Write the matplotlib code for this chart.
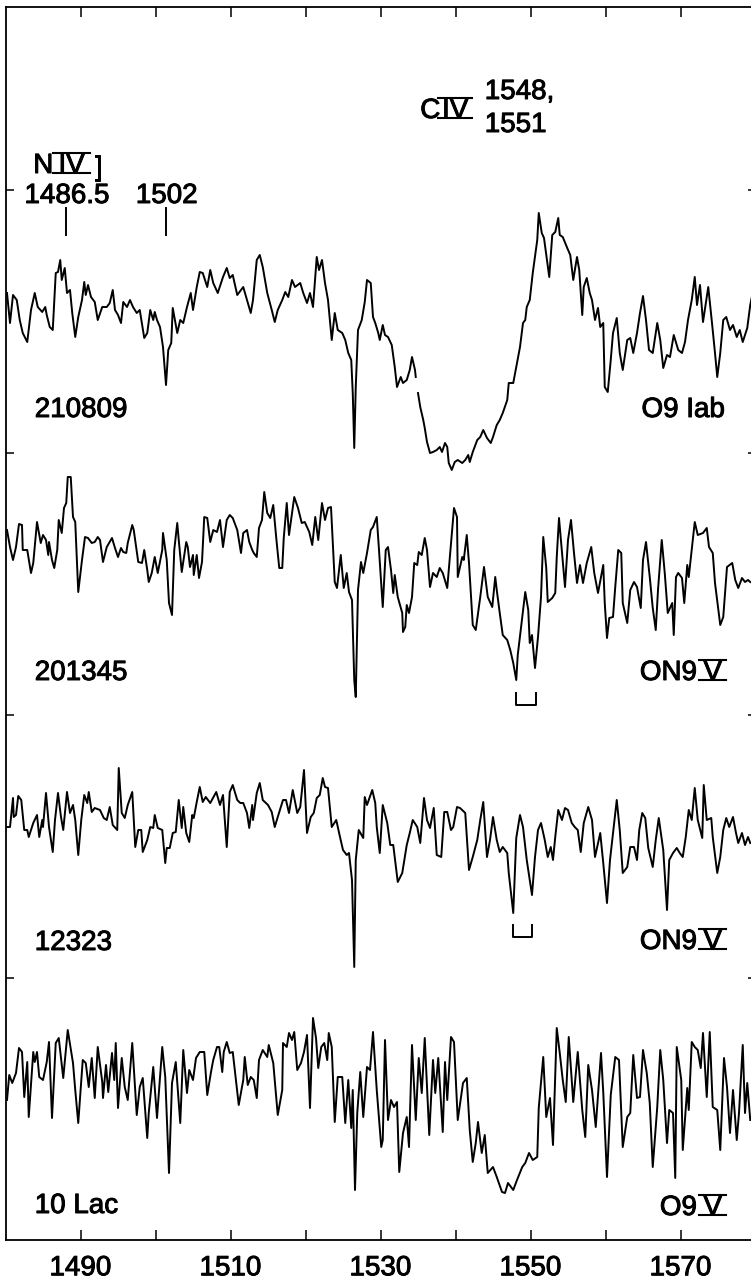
import numpy as np
import matplotlib
matplotlib.use('Agg')
import matplotlib.pyplot as plt
import matplotlib.patheffects as pe

plt.rcParams['font.family'] = ['Liberation Sans', 'DejaVu Sans']

# wavelength offsets from 1480 A and relative flux (arbitrary units)
w1 = [0.2, 0.6, 1.0, 1.5, 1.9, 2.3, 2.9, 3.4, 3.9, 4.3, 4.9, 5.3, 5.5, 5.9, 6.3, 6.7, 7.0, 7.3, 7.5, 7.9,
      8.2, 8.6, 8.9, 9.3, 9.7, 10.2, 10.5, 10.7, 11.0, 11.4, 11.9, 12.3, 12.9, 13.5, 13.9, 14.3, 14.6, 15.0,
      15.4, 15.7, 16.2, 16.6, 17.0, 17.5, 17.9, 18.5, 18.9, 19.3, 19.7, 19.9, 20.2, 20.6, 21.0, 21.4, 21.7,
      22.1, 22.3, 22.9, 23.3, 23.7, 24.2, 24.7, 25.0, 25.5, 25.9, 26.3, 26.9, 27.3, 27.7, 28.3, 29.0, 29.5,
      29.9, 30.3, 30.9, 31.7, 32.2, 32.7, 33.0, 33.5, 33.9, 34.3, 34.9, 35.5, 35.9, 36.3, 36.9, 37.3, 37.7,
      38.2, 38.6, 39.3, 39.7, 40.2, 40.6, 41.0, 41.5, 41.8, 42.2, 42.6, 43.0, 43.5, 43.9, 44.3, 44.9, 45.3,
      45.7, 46.1, 46.3, 46.5, 46.7, 47.0, 47.5, 47.9, 48.2, 48.7, 49.0, 49.3, 49.7, 49.9, 50.3, 50.6, 51.0,
      51.5, 51.9, 52.2, 52.7, 53.0, 53.5, 53.9, 54.2, 54.6, 54.7, 54.8, 55.0, 55.3, 55.7, 55.9, 56.2, 56.6,
      57.0, 57.5, 57.9, 58.2, 58.6, 58.9, 59.1, 59.5, 59.9, 60.3, 60.9, 61.3, 61.7, 61.9, 62.3, 62.9, 63.3,
      63.7, 64.2, 64.7, 65.0, 65.5, 65.9, 66.3, 66.9, 67.1, 67.7, 68.2, 68.6, 69.0, 69.3, 69.5, 69.9, 70.3,
      70.9, 71.1, 71.5, 71.8, 72.2, 72.5, 72.9, 73.3, 73.7, 73.9, 74.3, 74.9, 75.3, 75.7, 76.2, 76.5, 76.9,
      77.1, 77.5, 77.9, 78.2, 78.6, 79.0, 79.3, 79.7, 79.9, 80.3, 80.7, 81.0, 81.5, 81.9, 82.3, 82.9, 83.3,
      83.7, 84.2, 84.6, 85.0, 85.4, 85.8, 86.3, 86.9, 87.3, 87.7, 88.2, 88.6, 89.1, 89.7, 90.2, 90.6, 91.0,
      91.5, 91.9, 92.2, 92.6, 93.0, 93.7, 94.2, 94.6, 94.9, 95.3, 95.7, 96.1, 96.6, 97.0, 97.5, 97.9, 98.3,
      98.9, 99.3, 99.7]
f1 = [197, 167, 195, 190, 170, 157, 148, 180, 197, 183, 178, 183, 175, 163, 160, 217, 218, 230, 210, 222,
      197, 200, 177, 153, 173, 190, 208, 195, 205, 193, 188, 170, 183, 183, 187, 200, 180, 175,
      167, 188, 183, 190, 183, 177, 180, 152, 157, 180, 170, 178, 170, 163, 143, 105, 140,
      147, 182, 157, 170, 167, 183, 197, 180, 203, 218, 217, 203, 220, 207, 197, 213, 222,
      212, 215, 195, 203, 190, 177, 190, 230, 235, 223, 197, 180, 168, 180, 190, 198, 193,
      210, 203, 207, 197, 187, 197, 183, 233, 220, 230, 207, 190, 150, 177, 160, 157, 150,
      137, 130, 97, 42, 103, 160, 170, 188, 210, 207, 173, 167, 157, 150, 165, 155, 153,
      145, 123, 103, 113, 107, 110, 120, 133, 120, 113, np.nan, 97, 83, 70, 62, 48, 37,
      38, 40, 43, 38, 47, 43, 27, 20, 28, 30, 27, 30, 35, 28, 38, 50, 53,
      60, 52, 47, 53, 65, 70, 77, 90, 107, 107, 127, 143, 167, 170, 183, 190, 217,
      250, 277, 257, 252, 230, 213, 255, 258, 272, 255, 253, 242, 235, 210, 233, 220, 175,
      203, 212, 197, 190, 170, 182, 163, 167, 103, 98, 130, 157, 172, 137, 120, 150, 152,
      137, 157, 177, 194, 170, 140, 137, 167, 150, 122, 135, 133, 155, 140, 137, 148, 170,
      190, 213, 185, 205, 168, 203, 167, 137, 113, 137, 170, 173, 160, 165, 153, 160, 148,
      162, 185, 200]

w2 = [0.2, 0.6, 1.0, 1.4, 1.8, 2.2, 2.3, 2.9, 3.4, 3.7, 4.2, 4.7, 5.0, 5.4, 5.7, 5.8, 6.2, 6.5, 6.9, 7.1,
      7.5, 7.8, 8.1, 8.3, 8.7, 9.0, 9.3, 9.7, 10.2, 10.6, 11.0, 11.5, 11.9, 12.3, 12.6, 13.0, 13.5, 14.2,
      14.6, 15.0, 15.4, 15.7, 16.1, 16.3, 16.9, 17.1, 17.7, 18.2, 18.5, 18.9, 19.1, 19.5, 19.9, 20.3, 20.9,
      21.0, 21.5, 21.8, 22.2, 22.5, 22.9, 23.1, 23.5, 24.1, 24.3, 24.6, 25.0, 25.1, 25.5, 25.8, 26.2, 26.5,
      26.9, 27.3, 27.7, 28.2, 28.6, 29.0, 29.5, 29.9, 30.3, 30.9, 31.4, 31.7, 32.2, 32.5, 32.9, 33.1, 33.5,
      33.8, 34.2, 34.5, 34.9, 35.3, 35.7, 36.1, 36.5, 36.9, 37.1, 37.5, 37.8, 38.2, 38.5, 39.0, 39.5, 39.9,
      40.5, 40.9, 41.3, 41.7, 42.2, 42.6, 43.0, 43.4, 43.9, 44.2, 44.7, 45.1, 45.5, 45.8, 46.2, 46.5, 46.7,
      47.0, 47.4, 47.7, 48.2, 48.7, 49.0, 49.5, 49.8, 50.3, 50.7, 51.0, 51.4, 51.7, 51.9, 52.3, 52.9, 53.0,
      53.3, 53.5, 53.8, 54.2, 54.5, 54.9, 55.1, 55.5, 55.9, 56.2, 56.6, 57.0, 57.5, 57.9, 58.3, 58.9, 59.1,
      59.5, 59.8, 60.2, 60.3, 60.9, 61.1, 61.5, 61.8, 62.3, 62.7, 63.3, 63.8, 64.3, 64.9, 65.3, 65.5, 65.9,
      66.3, 66.9, 67.3, 67.7, 68.1, 68.3, 68.9, 69.3, 69.7, 69.9, 70.2, 70.6, 71.0, 71.4, 71.7, 72.1, 72.3,
      72.9, 73.3, 73.5, 73.8, 74.2, 74.6, 75.0, 75.4, 75.8, 76.2, 76.6, 77.0, 77.5, 78.1, 78.5, 79.0, 79.7,
      79.9, 80.2, 80.5, 81.0, 81.3, 81.7, 82.1, 82.3, 82.9, 83.3, 83.8, 84.2, 84.7, 85.0, 85.4, 85.9, 86.3,
      86.7, 87.0, 87.5, 87.9, 88.3, 88.9, 89.1, 89.4, 89.7, 90.2, 90.5, 90.9, 91.1, 91.5, 91.9, 92.3, 93.0,
      93.5, 93.8, 94.3, 94.6, 95.3, 95.7, 96.2, 96.9, 97.3, 97.7, 98.2, 98.6, 99.0, 99.3]
f2 = [220, 203, 190, 203, 226, 225, 200, 200, 177, 187, 228, 207, 215, 210, 195, 208, 190, 182, 200, 230,
      217, 242, 247, 273, 273, 233, 228, 158, 190, 213, 212, 207, 208, 213, 210, 188, 203, 212,
      202, 193, 202, 198, 197, 207, 225, 220, 188, 187, 200, 180, 168, 177, 193, 177, 200,
      217, 190, 147, 135, 200, 227, 210, 178, 208, 203, 183, 195, 175, 195, 172, 188, 233,
      232, 208, 220, 218, 230, 203, 230, 235, 232, 220, 197, 217, 220, 208, 200, 197, 193,
      222, 230, 258, 237, 232, 245, 212, 182, 182, 212, 247, 215, 237, 253, 242, 227, 228,
      218, 205, 233, 210, 247, 230, 242, 243, 168, 162, 195, 162, 177, 158, 150, 70, 53,
      160, 188, 177, 197, 220, 223, 233, 200, 143, 200, 203, 180, 157, 175, 153, 137, 118,
      123, 145, 137, 153, 187, 185, 198, 195, 212, 200, 163, 177, 173, 182, 177, 162, 180,
      215, 242, 233, 173, 193, 190, 215, 187, 125, 120, 153, 183, 153, 143, 173, 160, 137,
      115, 110, 100, 87, 70, 95, 133, 158, 140, 107, 115, 82, 113, 153, 213, 182, 148,
      152, 157, 193, 232, 197, 163, 210, 230, 197, 167, 185, 167, 187, 203, 177, 157, 185,
      147, 112, 132, 133, 163, 200, 197, 147, 127, 160, 168, 163, 142, 190, 208, 173, 142,
      120, 160, 210, 177, 137, 147, 115, 173, 177, 172, 147, 185, 173, 200, 228, 215, 217,
      222, 203, 197, 167, 125, 133, 183, 187, 170, 162, 172, 168, 170, 168]

w3 = [0.2, 0.6, 1.0, 1.1, 1.4, 1.7, 2.1, 2.5, 2.9, 3.1, 3.7, 4.2, 4.5, 4.9, 5.0, 5.4, 5.8, 6.3, 6.6, 7.0,
      7.4, 7.7, 8.2, 8.6, 9.0, 9.3, 9.7, 10.1, 10.5, 10.9, 11.1, 11.5, 11.9, 12.6, 13.1, 13.5, 13.9, 14.3,
      14.9, 15.1, 15.5, 15.9, 16.3, 16.9, 17.3, 17.7, 18.1, 18.3, 18.9, 19.3, 19.7, 19.9, 20.3, 20.9, 21.3,
      21.5, 21.9, 22.3, 22.7, 23.1, 23.5, 23.7, 24.1, 24.5, 24.9, 25.1, 25.5, 25.9, 26.3, 26.7, 27.3, 28.1,
      28.6, 29.0, 29.5, 29.9, 30.3, 30.9, 31.3, 31.7, 32.2, 32.5, 32.9, 33.0, 33.5, 33.9, 34.3, 35.0, 35.5,
      35.9, 36.3, 37.0, 37.4, 37.8, 38.3, 38.9, 39.3, 39.8, 40.2, 40.7, 41.1, 41.5, 41.9, 42.3, 42.6, 43.0,
      43.5, 44.1, 44.6, 45.0, 45.5, 45.8, 46.2, 46.5, 46.7, 47.1, 47.7, 47.9, 48.2, 48.9, 49.3, 49.5, 49.9,
      50.3, 50.9, 51.3, 51.7, 52.3, 52.9, 53.5, 53.9, 54.3, 54.9, 55.3, 55.8, 56.2, 56.6, 57.1, 57.5, 58.1,
      58.5, 58.9, 59.4, 59.7, 60.2, 60.6, 61.3, 61.8, 62.3, 62.9, 63.3, 63.7, 64.2, 64.6, 65.0, 65.5, 65.9,
      66.3, 66.9, 67.1, 67.7, 68.1, 68.6, 69.0, 69.5, 70.2, 70.6, 71.0, 71.4, 71.9, 72.3, 72.7, 73.0, 73.3,
      73.5, 73.7, 74.2, 74.6, 75.0, 75.5, 75.9, 76.3, 76.7, 77.1, 77.7, 78.2, 78.6, 79.3, 79.7, 80.2, 80.6,
      81.0, 81.5, 81.9, 82.3, 82.9, 83.3, 83.8, 84.2, 84.5, 84.9, 85.3, 85.7, 86.3, 86.7, 87.1, 87.7, 88.2,
      88.5, 89.0, 89.5, 89.9, 90.3, 90.7, 91.1, 91.5, 91.9, 92.3, 92.9, 93.1, 93.5, 94.1, 94.3, 94.9, 95.3,
      95.7, 96.1, 96.5, 97.0, 97.4, 97.7, 98.2, 98.6, 99.0, 99.3]
f3 = [173, 173, 202, 183, 185, 204, 200, 170, 170, 163, 177, 185, 163, 180, 173, 207, 173, 148, 180, 207,
      183, 170, 208, 187, 195, 180, 145, 180, 205, 197, 208, 188, 192, 190, 182, 180, 193, 175,
      170, 232, 187, 182, 195, 208, 153, 170, 170, 148, 160, 173, 172, 185, 172, 170, 137,
      152, 152, 167, 168, 200, 172, 193, 167, 158, 185, 182, 198, 213, 198, 203, 197, 208,
      195, 205, 153, 208, 215, 200, 197, 197, 187, 172, 195, 180, 207, 217, 200, 195, 188,
      173, 183, 200, 200, 187, 210, 187, 193, 230, 167, 183, 187, 202, 205, 222, 213, 212,
      173, 180, 163, 150, 145, 147, 120, 33, 140, 170, 162, 203, 195, 210, 197, 173, 147,
      195, 177, 155, 155, 118, 127, 155, 167, 180, 173, 157, 202, 180, 172, 192, 145, 143,
      188, 188, 170, 173, 193, 192, 187, 130, 143, 160, 180, 198, 143, 160, 183, 160, 148,
      153, 147, 127, 87, 162, 185, 173, 140, 105, 143, 170, 177, 160, 143, 153, 140, 163,
      177, 190, 180, 192, 190, 177, 173, 170, 148, 177, 193, 180, 143, 167, 137, 97, 140,
      167, 200, 170, 127, 133, 153, 153, 140, 170, 187, 182, 152, 133, 160, 182, 150, 90,
      140, 147, 152, 147, 143, 163, 190, 180, 212, 180, 162, 215, 180, 182, 163, 127, 143,
      170, 182, 173, 183, 167, 157, 167, 155, 163, 157]

w4 = [0.2, 0.5, 0.9, 1.4, 1.8, 2.2, 2.5, 2.9, 3.1, 3.7, 3.9, 4.2, 4.5, 5.0, 5.5, 5.8, 6.2, 6.7, 7.1, 7.7,
      8.3, 9.0, 9.3, 9.7, 10.3, 10.7, 11.1, 11.5, 11.9, 12.3, 12.9, 13.0, 13.4, 13.7, 14.2, 14.5, 14.7, 15.0,
      15.5, 15.9, 16.3, 16.9, 17.5, 17.9, 18.3, 18.9, 19.1, 19.7, 20.2, 20.9, 21.3, 21.8, 22.2, 22.7, 23.3,
      23.7, 24.2, 24.5, 25.0, 25.4, 25.9, 26.5, 26.9, 27.4, 27.7, 28.2, 28.5, 28.9, 29.1, 29.5, 29.9, 30.3,
      31.1, 31.7, 31.9, 32.3, 32.7, 33.1, 33.5, 33.8, 34.3, 34.9, 35.1, 35.7, 35.9, 36.3, 36.9, 37.0, 37.5,
      37.8, 38.2, 38.5, 38.9, 39.4, 39.8, 40.2, 40.6, 41.0, 41.4, 41.7, 42.1, 42.5, 42.9, 43.1, 43.5, 43.9,
      44.3, 44.9, 45.3, 45.7, 46.1, 46.3, 46.6, 46.9, 47.3, 47.7, 48.2, 48.6, 49.0, 49.5, 50.1, 50.3, 50.6,
      51.0, 51.4, 51.8, 52.2, 52.5, 53.0, 53.5, 53.8, 54.2, 54.7, 55.1, 55.5, 55.9, 56.5, 57.0, 57.3, 57.7,
      58.3, 58.6, 58.9, 59.4, 59.8, 60.3, 61.0, 61.5, 61.9, 62.3, 62.7, 63.0, 63.5, 63.9, 64.3, 65.0, 65.5,
      66.2, 66.6, 67.0, 67.7, 68.2, 68.9, 69.3, 69.8, 70.3, 70.9, 71.1, 71.7, 72.1, 72.6, 73.0, 73.5, 73.9,
      74.3, 74.7, 75.1, 75.7, 76.3, 76.9, 77.3, 77.7, 78.2, 78.7, 79.4, 79.7, 80.2, 80.7, 81.3, 81.8, 82.3,
      82.9, 83.3, 83.7, 84.2, 84.6, 85.0, 85.5, 85.9, 86.3, 86.9, 87.3, 87.7, 88.2, 88.5, 89.0, 89.3, 89.5,
      90.1, 90.3, 90.9, 91.1, 91.5, 91.9, 92.3, 92.7, 93.0, 93.5, 93.9, 94.3, 94.9, 95.3, 95.8, 96.2, 96.6,
      97.0, 97.5, 97.8, 98.3, 98.6, 98.9, 99.3]
f4 = [140, 165, 157, 167, 192, 188, 143, 178, 123, 188, 178, 188, 163, 160, 178, 198, 122, 197, 202, 162,
      210, 177, 150, 117, 180, 177, 153, 182, 142, 193, 158, 142, 175, 148, 187, 160, 197, 132,
      182, 153, 140, 197, 125, 153, 162, 102, 127, 173, 122, 193, 163, 67, 157, 178, 117,
      190, 147, 170, 160, 182, 188, 188, 145, 168, 180, 193, 193, 168, 188, 198, 187, 188,
      135, 160, 183, 155, 163, 160, 142, 180, 190, 183, 195, 177, 160, 125, 150, 197, 193,
      207, 200, 208, 170, 177, 188, 205, 132, 222, 202, 172, 193, 197, 180, 207, 193, 118,
      163, 163, 117, 160, 112, 150, 50, 127, 168, 123, 173, 170, 208, 150, 93, 100, 200,
      120, 140, 133, 138, 68, 107, 123, 93, 195, 120, 182, 147, 202, 105, 180, 147, 182,
      108, 178, 140, 203, 198, 120, 157, 162, 110, 78, 97, 118, 87, 105, 67, 73, 63,
      48, 47, 57, 50, 60, 73, 77, 87, 80, 83, 132, 183, 123, 142, 95, 212, 187,
      160, 138, 203, 138, 188, 130, 103, 175, 150, 113, 187, 148, 63, 145, 183, 180, 93,
      123, 127, 185, 142, 143, 190, 167, 137, 73, 133, 190, 160, 97, 130, 127, 62, 193,
      160, 90, 152, 130, 198, 193, 190, 172, 207, 143, 208, 133, 130, 90, 182, 153, 107,
      150, 100, 127, 195, 127, 157, 120]

waves = [w1, w2, w3, w4]
fluxes = [f1, f2, f3, f4]
offsets = [750, 490, 240, 0]

stars = ['210809', '201345', '12323', '10 Lac']
star_base = [823, 560, 290, 27]
sptype_main = ['O9 Iab', 'ON9', 'ON9', 'O9']
sptype_roman = ['', 'V', 'V', 'V']
roman_base = [823, 560, 291, 25]

# C IV doublet brackets under spectra 2 and 3
bracket_x = [(1548.1, 1550.7), (1547.7, 1550.2)]
bracket_y = [(547, 535), (315, 303)]

# N IV] / 1502 markers
marker_w = [1488.1, 1501.4]
marker_lab = ['1486.5', '1502']

FS = 20
CAP = 20
LW = 1.4
bold = [pe.withStroke(linewidth=0.7, foreground='black')]

fig = plt.figure(figsize=(7.51, 12.83), dpi=100)
ax = fig.add_axes([5.5 / 751, 43 / 1283, 750 / 751, 1233 / 1283])

for w, f, off in zip(waves, fluxes, offsets):
    ax.plot(1480 + np.array(w), np.array(f, dtype=float) + off, color='black', lw=LW)

ax.set_xlim(1480, 1580)
ax.set_ylim(0, 1233)


def label(x, y, s, ha='left'):
    ax.text(x, y, s, ha=ha, va='baseline', fontsize=FS, path_effects=bold)


def roman(x0, x1, base, s):
    label((x0 + x1) / 2, base, s, ha='center')
    for yy in (base, base + CAP):
        ax.plot([x0, x1], [yy, yy], color='black', lw=1.5, clip_on=False)


for name, nb, main, rom, rb in zip(stars, star_base, sptype_main, sptype_roman, roman_base):
    label(1483.9, nb, name)
    if rom:
        label(1572.2, rb, main, ha='right')
        roman(1572.5, 1576.1, rb, rom)
    else:
        label(1575.9, nb, main, ha='right')

for (x0, x1), (yt, yb) in zip(bracket_x, bracket_y):
    ax.plot([x0, x0, x1, x1], [yt, yb, yb, yt], color='black', lw=LW)

# N IV] label with line markers
label(1483.7, 1067, 'N')
roman(1486.3, 1491.3, 1067, 'IV')
label(1491.9, 1065, ']')
for mw, ml in zip(marker_w, marker_lab):
    label(mw + 0.1, 1037, ml, ha='center')
    ax.plot([mw, mw], [1005, 1032], color='black', lw=LW)

# C IV label
label(1535.3, 1122, 'C')
roman(1537.7, 1542.2, 1122, 'IV')
label(1543.9, 1141, '1548,')
label(1543.9, 1108, '1551')

xt = list(range(1490, 1580, 10))
ax.set_xticks(xt)
ax.set_xticklabels([str(t) if (t - 1490) % 20 == 0 else '' for t in xt], fontsize=FS)
for t in ax.get_xticklabels():
    t.set_path_effects(bold)
ax.tick_params(axis='x', direction='in', length=7.2, width=1.1, top=True, bottom=True, pad=11)
ax.set_yticks([262.5, 525, 787.5, 1050])
ax.set_yticklabels([])
ax.tick_params(axis='y', direction='in', length=5.8, width=1.1, left=True, right=True)
for sp in ax.spines.values():
    sp.set_linewidth(1.3)

fig.savefig('out.png', dpi=100)
